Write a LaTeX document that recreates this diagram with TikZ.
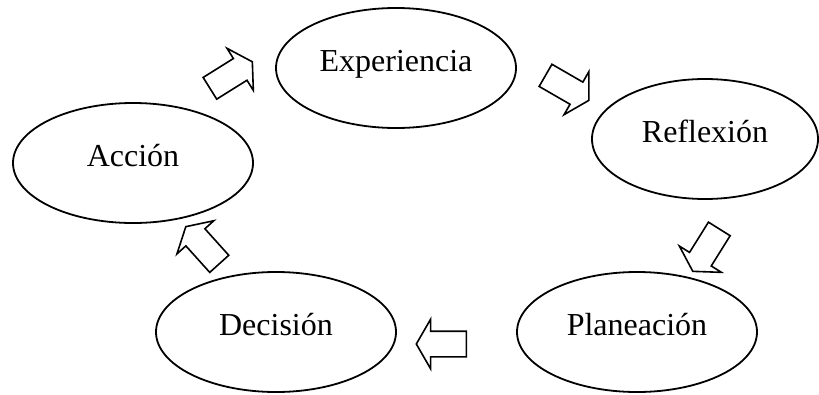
\documentclass[tikz,border=0pt]{standalone}
\usepackage{fontspec}
\setmainfont{Liberation Serif}
\usetikzlibrary{shapes.geometric,shapes.arrows}

\tikzset{
  etapa/.style={ellipse, draw, line width=1.8pt, minimum width=240pt,
    minimum height=120pt, inner sep=0pt, text height=22pt, text depth=16pt,
    font=\fontsize{32}{38}\selectfont},
  flecha/.style={single arrow, draw, line width=1.6pt, minimum height=50pt,
    inner xsep=0pt, inner ysep=12pt, single arrow head extend=12pt,
    single arrow tip angle=120}
}

\begin{document}
\begin{tikzpicture}[x=1pt, y=-1pt]
  \useasboundingbox (0,0) rectangle (819,394);
  % las cinco etapas
  \node[etapa] (experiencia) at (396,68) {Experiencia};
  \node[etapa, minimum width=226pt] (reflexion) at (705,139) {Reflexión};
  \node[etapa] (accion) at (133,163) {Acción};
  \node[etapa] (decision) at (276,332) {Decisión};
  \node[etapa] (planeacion) at (637,332) {Planeación};
  % flechas del ciclo
  \node[flecha, rotate=32] (f1) at (228,77) {};
  \node[flecha, rotate=-30] (f2) at (564,86) {};
  \node[flecha, rotate=-122] (f3) at (708,247) {};
  \node[flecha, rotate=180] (f4) at (445,344) {};
  \node[flecha, rotate=132] (f5) at (205,248) {};
\end{tikzpicture}
\end{document}
